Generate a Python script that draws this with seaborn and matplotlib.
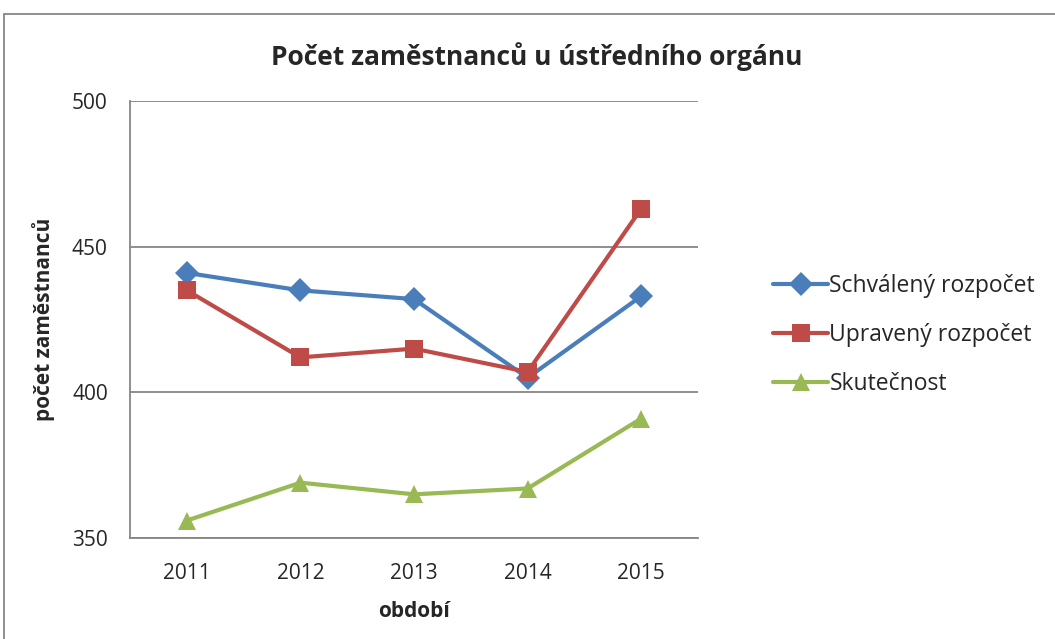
import numpy as np
import pandas as pd
import seaborn as sns
import matplotlib.pyplot as plt
from matplotlib.patches import Rectangle

roky = ['2011', '2012', '2013', '2014', '2015']
schvaleny = [441, 435, 432, 405, 433]
upraveny = [435, 412, 415, 407, 463]
skutecnost = [356, 369, 365, 367, 391]
serie = ['Schválený rozpočet', 'Upravený rozpočet', 'Skutečnost']

df = pd.DataFrame({
    'rok': roky * 3,
    'pocet': schvaleny + upraveny + skutecnost,
    'serie': [s for s in serie for _ in roky],
})

sns.set_style('white')
plt.rcParams['font.family'] = ['Open Sans', 'DejaVu Sans']

barvy = {'Schválený rozpočet': '#4A7EBB', 'Upravený rozpočet': '#BE4B48', 'Skutečnost': '#98B954'}
znacky = {'Schválený rozpočet': 'D', 'Upravený rozpočet': 's', 'Skutečnost': '^'}
velikost = {'Schválený rozpočet': 12, 'Upravený rozpočet': 13, 'Skutečnost': 13}

fig = plt.figure(figsize=(10.55, 6.39), dpi=100)
ax = fig.add_axes([0.1232, 0.158, 0.5384, 0.684])

df['x'] = df['rok'].map({r: i for i, r in enumerate(roky)})
for s in serie:
    sns.lineplot(data=df[df['serie'] == s], x='x', y='pocet', color=barvy[s],
                 marker=znacky[s], linewidth=3, markersize=velikost[s],
                 markeredgewidth=0, ax=ax, legend=False)

ax.set_xlim(-0.5, len(roky) - 0.5)
ax.set_ylim(350, 500)
ax.set_yticks([350, 400, 450, 500])
ax.set_xticks(np.arange(-0.5, len(roky), 1.0))
ax.set_xticklabels([])
ax.set_xticks(np.arange(len(roky)), minor=True)
ax.set_xticklabels(roky, minor=True)
ax.tick_params(axis='x', which='major', length=6, color='#868686', width=1.2)
ax.tick_params(axis='x', which='minor', length=0, labelsize=15, pad=18)
ax.tick_params(axis='y', length=6, color='#868686', width=1.2, labelsize=15, pad=10)
ax.yaxis.grid(True, color='#868686', linewidth=1.3)
ax.set_axisbelow(True)
for s in ['top', 'right']:
    ax.spines[s].set_visible(False)
for s in ['left', 'bottom']:
    ax.spines[s].set_color('#868686')
    ax.spines[s].set_linewidth(1.3)

ax.set_xlabel('období', fontsize=15, fontweight='bold', labelpad=12)
ax.set_ylabel('počet zaměstnanců', fontsize=15, fontweight='bold', labelpad=12)
fig.text(0.509, 0.911, 'Počet zaměstnanců u ústředního orgánu', ha='center', va='center',
         fontsize=19, fontweight='bold')

handles = [plt.Line2D([], [], color=barvy[s], marker=znacky[s], markersize=velikost[s],
                      markeredgewidth=0, linewidth=3) for s in serie]
fig.legend(handles, serie, loc='upper left', bbox_to_anchor=(0.733, 0.571),
           frameon=False, fontsize=16.5, handlelength=2.4, handletextpad=0.05,
           labelspacing=1.08, borderaxespad=0, borderpad=0)

fig.patches.append(Rectangle((4 / 1055, -0.1), 1.2, 1.1 - 14 / 639,
                             transform=fig.transFigure, fill=False,
                             edgecolor='#868686', linewidth=1.3))

fig.savefig('out.png', dpi=100)
